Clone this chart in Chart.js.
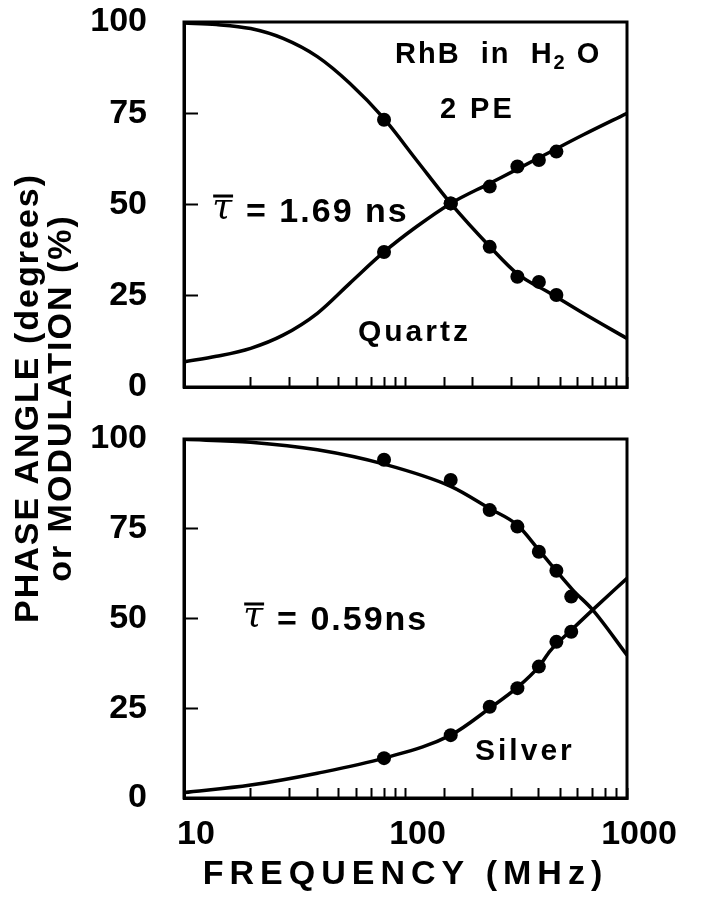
<!DOCTYPE html>
<html>
<head>
<meta charset="utf-8">
<script src="https://cdn.jsdelivr.net/npm/chart.js@4.4.1/dist/chart.umd.min.js"></script>
<style>
html, body { margin: 0; padding: 0; background: #fff; }
#wrap { position: relative; width: 705px; height: 900px; }
canvas { position: absolute; left: 0; }
#topChart { top: 0; }
#bottomChart { top: 410px; }
</style>
</head>
<body>
<div id="wrap">
  <canvas id="topChart" width="705" height="900"></canvas>
  <canvas id="bottomChart" width="705" height="490"></canvas>
</div>
<script>
// measured points (MHz, degrees / %)
const quartzFreq = [80, 160, 240, 320, 400, 480]
const quartzPhase = [37, 50.3, 54.9, 60.4, 62.2, 64.5]
const quartzMod = [73.2, 50.3, 38.4, 30.2, 28.8, 25.2]

const silverFreq = [80, 160, 240, 320, 400, 480, 560]
const silverPhase = [11.1, 17.5, 25.4, 30.6, 36.6, 43.5, 46.3]
const silverMod = [94.2, 88.6, 80.2, 75.6, 68.6, 63.3, 56.1]

// fitted curves
const quartzFitFreq = [10, 14, 20, 28, 40, 56, 80, 112, 160, 240, 320, 450, 635, 1000]
const quartzFitPhase = [6.9, 8.4, 10.6, 14.2, 20.2, 28.4, 37, 43.9, 50.3, 55.8, 59.7, 64.4, 69.1, 75]
const quartzFitMod = [99.7, 99.3, 98.2, 95.5, 90.5, 83.2, 73.5, 62.2, 50.3, 38.5, 31, 25.7, 20.2, 13.3]

const silverFitFreq = [10, 20, 40, 80, 160, 240, 320, 400, 450, 570, 700, 1000]
const silverFitPhase = [1.5, 3.6, 6.9, 11.1, 17.5, 25, 30.8, 36.6, 41, 47.2, 52.4, 61.2]
const silverFitMod = [99.9, 99.1, 97, 93, 86.8, 80.6, 76, 69.1, 65.3, 57.9, 52.4, 39.8]

// axes
const xLabelTicks = [10, 100, 1000]
const yTicks = [0, 25, 50, 75, 100]
const xTitle = 'FREQUENCY (MHz)'
const yTitleLines = ['PHASE ANGLE (degrees)', 'or MODULATION (%)']

const FONT = "'Liberation Sans', Arial, sans-serif"
const toXY = (xs, ys) => xs.map((x, i) => ({x: x, y: ys[i]}))

// box around the plot area
const framePlugin = {
    id: 'frame',
    beforeDatasetsDraw(chart) {
        const {ctx, chartArea: a} = chart
        ctx.save()
        ctx.strokeStyle = '#000'
        ctx.lineWidth = 3
        ctx.strokeRect(a.left, a.top, a.right - a.left, a.bottom - a.top)
        ctx.restore()
    }
}

// wide spacing for the axis title, none for tick numbers
const spacingPlugin = {
    id: 'spacing',
    beforeDraw(chart) { chart.ctx.letterSpacing = '6px' },
    afterDatasetsDraw(chart) { chart.ctx.letterSpacing = '0px' }
}

// texts inside the panels
const notesPlugin = {
    id: 'notes',
    afterDraw(chart, args, opts) {
        const ctx = chart.ctx
        const sx = chart.scales.x, sy = chart.scales.y
        ctx.save()
        ctx.fillStyle = '#000'
        ctx.strokeStyle = '#000'
        ctx.textBaseline = 'alphabetic'
        ctx.textAlign = 'left'
        ;(opts.items || []).forEach(note => {
            let x = sx.getPixelForValue(note.f)
            const y = sy.getPixelForValue(note.v)
            if (note.tau) {
                ctx.letterSpacing = '0px'
                ctx.font = "italic 36px 'DejaVu Serif', serif"
                const w = ctx.measureText('τ').width
                ctx.fillText('τ', x, y - 4)
                ctx.lineWidth = 3
                ctx.beginPath()
                ctx.moveTo(x + 1, y - 26)
                ctx.lineTo(x + w + 1, y - 26)
                ctx.stroke()
                x += w + 14
            }
            ctx.letterSpacing = (note.spacing || 3) + 'px'
            note.runs.forEach(run => {
                const size = run.sub ? Math.round(note.size * 0.7) : note.size
                ctx.font = 'bold ' + size + 'px ' + FONT
                ctx.fillText(run.t, x, run.sub ? y + 6 : y)
                x += ctx.measureText(run.t).width
            })
        })
        ctx.restore()
    }
}

// rotated y title shared by both panels
const yTitlePlugin = {
    id: 'yTitle',
    afterDraw(chart) {
        const ctx = chart.ctx
        ctx.save()
        ctx.fillStyle = '#000'
        ctx.font = 'bold 34px ' + FONT
        ctx.letterSpacing = '2px'
        ctx.textAlign = 'center'
        ctx.textBaseline = 'middle'
        const xs = [29, 62]
        yTitleLines.forEach((line, i) => {
            ctx.save()
            ctx.translate(xs[i], 398)
            ctx.rotate(-Math.PI / 2)
            ctx.fillText(line, 0, 0)
            ctx.restore()
        })
        ctx.restore()
    }
}

function makePanel(canvasId, freq, phase, mod, fitFreq, fitPhase, fitMod, cfg) {
    const lineSet = data => ({
        data: data, showLine: true, borderColor: '#000', borderWidth: 3.5,
        pointRadius: 0, cubicInterpolationMode: 'monotone', fill: false
    })
    const dotSet = data => ({
        data: data, showLine: false, pointRadius: 7, pointBackgroundColor: '#000',
        pointBorderColor: '#000', pointBorderWidth: 0
    })
    return new Chart(document.getElementById(canvasId), {
        type: 'scatter',
        data: {
            datasets: [
                lineSet(toXY(fitFreq, fitPhase)),
                lineSet(toXY(fitFreq, fitMod)),
                dotSet(toXY(freq, phase)),
                dotSet(toXY(freq, mod))
            ]
        },
        plugins: cfg.plugins,
        options: {
            responsive: false,
            animation: false,
            events: [],
            devicePixelRatio: 1,
            layout: {padding: cfg.padding},
            plugins: {
                legend: {display: false},
                tooltip: {enabled: false},
                notes: {items: cfg.notes}
            },
            scales: {
                x: {
                    type: 'logarithmic', min: 10, max: 1000,
                    afterFit: s => {
                        s.height = cfg.xHeight
                        s.paddingLeft = 0
                        s.paddingRight = 0
                    },
                    grid: {drawOnChartArea: false, tickLength: -10, tickWidth: 2, color: '#000'},
                    border: {display: true, color: '#000', width: 3},
                    ticks: {
                        autoSkip: false, maxRotation: 0, z: 1, color: '#000',
                        display: cfg.xLabels, padding: 26, labelOffset: 12,
                        font: {family: FONT, size: 34, weight: 'bold'},
                        callback: v => xLabelTicks.includes(Math.round(v)) ? String(Math.round(v)) : ''
                    },
                    title: {
                        display: cfg.xLabels, text: xTitle, color: '#000',
                        font: {family: FONT, size: 34, weight: 'bold'},
                        padding: {top: 0, bottom: 5}
                    }
                },
                y: {
                    min: 0, max: 100,
                    afterFit: s => {
                        s.width = 184
                        s.paddingTop = 0
                        s.paddingBottom = 0
                    },
                    afterBuildTicks: s => { s.ticks = yTicks.map(v => ({value: v})) },
                    grid: {drawOnChartArea: false, tickLength: -14, tickWidth: 2, color: '#000'},
                    border: {display: true, color: '#000', width: 3},
                    ticks: {
                        z: 1, color: '#000', padding: 51,
                        font: {family: FONT, size: 34, weight: 'bold'}
                    }
                }
            }
        }
    })
}

makePanel('topChart', quartzFreq, quartzPhase, quartzMod,
    quartzFitFreq, quartzFitPhase, quartzFitMod, {
    padding: {left: 0, top: 22, right: 78, bottom: 513},
    xHeight: 0,
    xLabels: false,
    plugins: [framePlugin, notesPlugin, yTitlePlugin],
    notes: [
        {f: 89.7, v: 88.8, size: 29, runs: [{t: 'RhB  in  H'}, {t: '2', sub: true}, {t: ' O'}], spacing: 2},
        {f: 143, v: 73.7, size: 29, runs: [{t: '2 PE'}]},
        {f: 13.4, v: 45.2, size: 34, tau: true, runs: [{t: '= 1.69 ns'}], spacing: 2},
        {f: 61, v: 12.6, size: 30, runs: [{t: 'Quartz'}]}
    ]
})

makePanel('bottomChart', silverFreq, silverPhase, silverMod,
    silverFitFreq, silverFitPhase, silverFitMod, {
    padding: {left: 0, top: 29, right: 78, bottom: 0},
    xHeight: 102,
    xLabels: true,
    plugins: [spacingPlugin, framePlugin, notesPlugin],
    notes: [
        {f: 18.5, v: 46.8, size: 34, tau: true, runs: [{t: '= 0.59ns'}], spacing: 2},
        {f: 206, v: 10.6, size: 30, runs: [{t: 'Silver'}]}
    ]
})
</script>
</body>
</html>
